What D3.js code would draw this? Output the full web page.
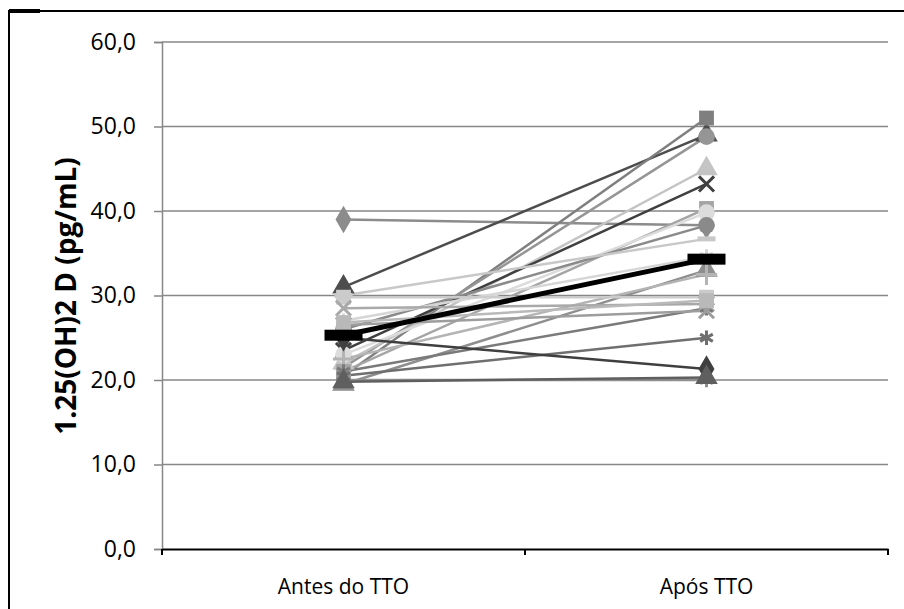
<!DOCTYPE html>
<html>
<head>
<meta charset="utf-8">
<script src="https://cdn.jsdelivr.net/npm/d3@7"></script>
<style>
  body { margin: 0; background: #fff; }
  svg { display: block; }
</style>
</head>
<body>
<div id="chart"></div>
<script>
// categories and values
var categories = ["Antes do TTO", "Após TTO"];
var yTicks = [0, 10, 20, 30, 40, 50, 60];
var before = [39.0, 31.0, 20.5, 21.5, 22.0, 23.5, 21.0, 23.0, 26.0, 30.0, 27.0, 19.5, 22.5, 29.8, 28.5, 21.0, 20.5, 25.0, 20.0, 19.8, 26.5, 26.8];
var after  = [38.3, 49.0, 51.0, 48.8, 45.0, 43.2, 40.3, 39.8, 38.3, 36.7, 34.6, 33.0, 32.5, 29.8, 29.0, 28.5, 25.0, 21.3, 20.0, 20.3, 28.2, 29.4];
var meanValues = [25.3, 34.3];

// style per series
var markers = ["diamond", "triangle", "square", "circle", "triangle", "x", "square", "circle", "circle", "dash",
               "star", "triangle", "plus", "square", "x", "star", "star", "diamond", "star", "triangle", "x", "square"];
var colors = ["#8c8c8c", "#4d4d4d", "#7f7f7f", "#959595", "#c4c4c4", "#404040", "#a5a5a5", "#dcdcdc", "#8a8a8a", "#c8c8c8",
              "#d6d6d6", "#8e8e8e", "#b4b4b4", "#cbcbcb", "#a9a9a9", "#7a7a7a", "#6f6f6f", "#3f3f3f", "#8f8f8f", "#5f5f5f", "#9d9d9d", "#b9b9b9"];

var font = "'Open Sans', sans-serif";
var W = 904, H = 609;
var margin = {top: 42, right: 16, bottom: 60, left: 162},
    width = W - margin.left - margin.right,
    height = H - margin.top - margin.bottom;

var svg = d3.select("#chart").append("svg")
    .attr("width", W)
    .attr("height", H);

// outer frame (cut at right and bottom)
svg.append("path")
    .attr("d", "M9,609 V11 H904")
    .attr("fill", "none")
    .attr("stroke", "#000")
    .attr("stroke-width", 2);
svg.append("line")
    .attr("x1", 9).attr("x2", 40).attr("y1", 11).attr("y2", 11)
    .attr("stroke", "#000").attr("stroke-width", 4);

var g = svg.append("g")
    .attr("transform", "translate(" + margin.left + "," + margin.top + ")");

var x = d3.scaleBand()
    .domain(categories)
    .range([0, width]);

var y = d3.scaleLinear()
    .domain([0, 60])
    .range([height, 0]);

// gridlines
g.selectAll(".grid")
  .data(yTicks.filter(function(d) { return d > 0; }))
  .enter().append("line")
    .attr("x1", 0).attr("x2", width)
    .attr("y1", function(d) { return y(d); })
    .attr("y2", function(d) { return y(d); })
    .attr("stroke", "#878787")
    .attr("stroke-width", 1.5);

// Y axis
var yAxis = g.append("g")
    .call(d3.axisLeft(y).tickValues(yTicks).tickSize(8).tickPadding(18)
      .tickFormat(function(d) { return d3.format(".1f")(d).replace(".", ","); }));
yAxis.select(".domain").attr("stroke", "#878787").attr("stroke-width", 1.5);
yAxis.selectAll(".tick line").attr("stroke", "#878787").attr("stroke-width", 1.5);
yAxis.selectAll("text").attr("font-size", 23).attr("fill", "#000").attr("font-family", font);

// X axis
var xAxis = g.append("g")
    .attr("transform", "translate(0," + height + ")")
    .call(d3.axisBottom(x).tickSize(0).tickPadding(30));
xAxis.select(".domain").attr("stroke", "#000").attr("stroke-width", 2);
xAxis.selectAll("text").attr("font-size", 21).attr("fill", "#000").attr("font-family", font);
var bounds = [0, x.step(), width];
xAxis.selectAll(".sep")
  .data(bounds)
  .enter().append("line")
    .attr("x1", function(d) { return d; }).attr("x2", function(d) { return d; })
    .attr("y1", 0).attr("y2", 6)
    .attr("stroke", "#000").attr("stroke-width", 2);

// Y axis title
svg.append("text")
    .attr("transform", "translate(76,296) rotate(-90)")
    .attr("text-anchor", "middle")
    .attr("font-family", font)
    .attr("font-size", 28)
    .attr("font-weight", "bold")
    .text("1.25(OH)2 D (pg/mL)");

var cx = function(i) { return x(categories[i]) + x.bandwidth() / 2; };

var series = before.map(function(b, i) {
  return {values: [b, after[i]], marker: markers[i], color: colors[i]};
});

var line = d3.line()
    .x(function(d, i) { return cx(i); })
    .y(function(d) { return y(d); });

g.selectAll(".series")
  .data(series)
  .enter().append("path")
    .attr("d", function(d) { return line(d.values); })
    .attr("fill", "none")
    .attr("stroke", function(d) { return d.color; })
    .attr("stroke-width", 2.5);

var symbolType = {
  diamond: d3.symbolDiamond, square: d3.symbolSquare, triangle: d3.symbolTriangle,
  circle: d3.symbolCircle, x: d3.symbolTimes, star: d3.symbolAsterisk, plus: d3.symbolPlus
};

series.forEach(function(s) {
  s.values.forEach(function(v, i) {
    if (s.marker === "dash") {
      g.append("rect")
        .attr("x", cx(i) - 9).attr("y", y(v) - 2.5)
        .attr("width", 18).attr("height", 5)
        .attr("fill", s.color);
      return;
    }
    var stroked = (s.marker === "x" || s.marker === "star" || s.marker === "plus");
    g.append("path")
      .attr("transform", "translate(" + cx(i) + "," + y(v) + ")")
      .attr("d", d3.symbol().type(symbolType[s.marker]).size(stroked ? 150 : 220)())
      .attr("fill", stroked ? "none" : s.color)
      .attr("stroke", stroked ? s.color : "none")
      .attr("stroke-width", 3);
  });
});

// mean line
g.append("path")
    .attr("d", line(meanValues))
    .attr("fill", "none")
    .attr("stroke", "#000")
    .attr("stroke-width", 5);
g.selectAll(".meanMark")
  .data(meanValues)
  .enter().append("rect")
    .attr("x", function(d, i) { return cx(i) - 19; })
    .attr("y", function(d) { return y(d) - 5.5; })
    .attr("width", 38).attr("height", 11)
    .attr("fill", "#000");
</script>
</body>
</html>
